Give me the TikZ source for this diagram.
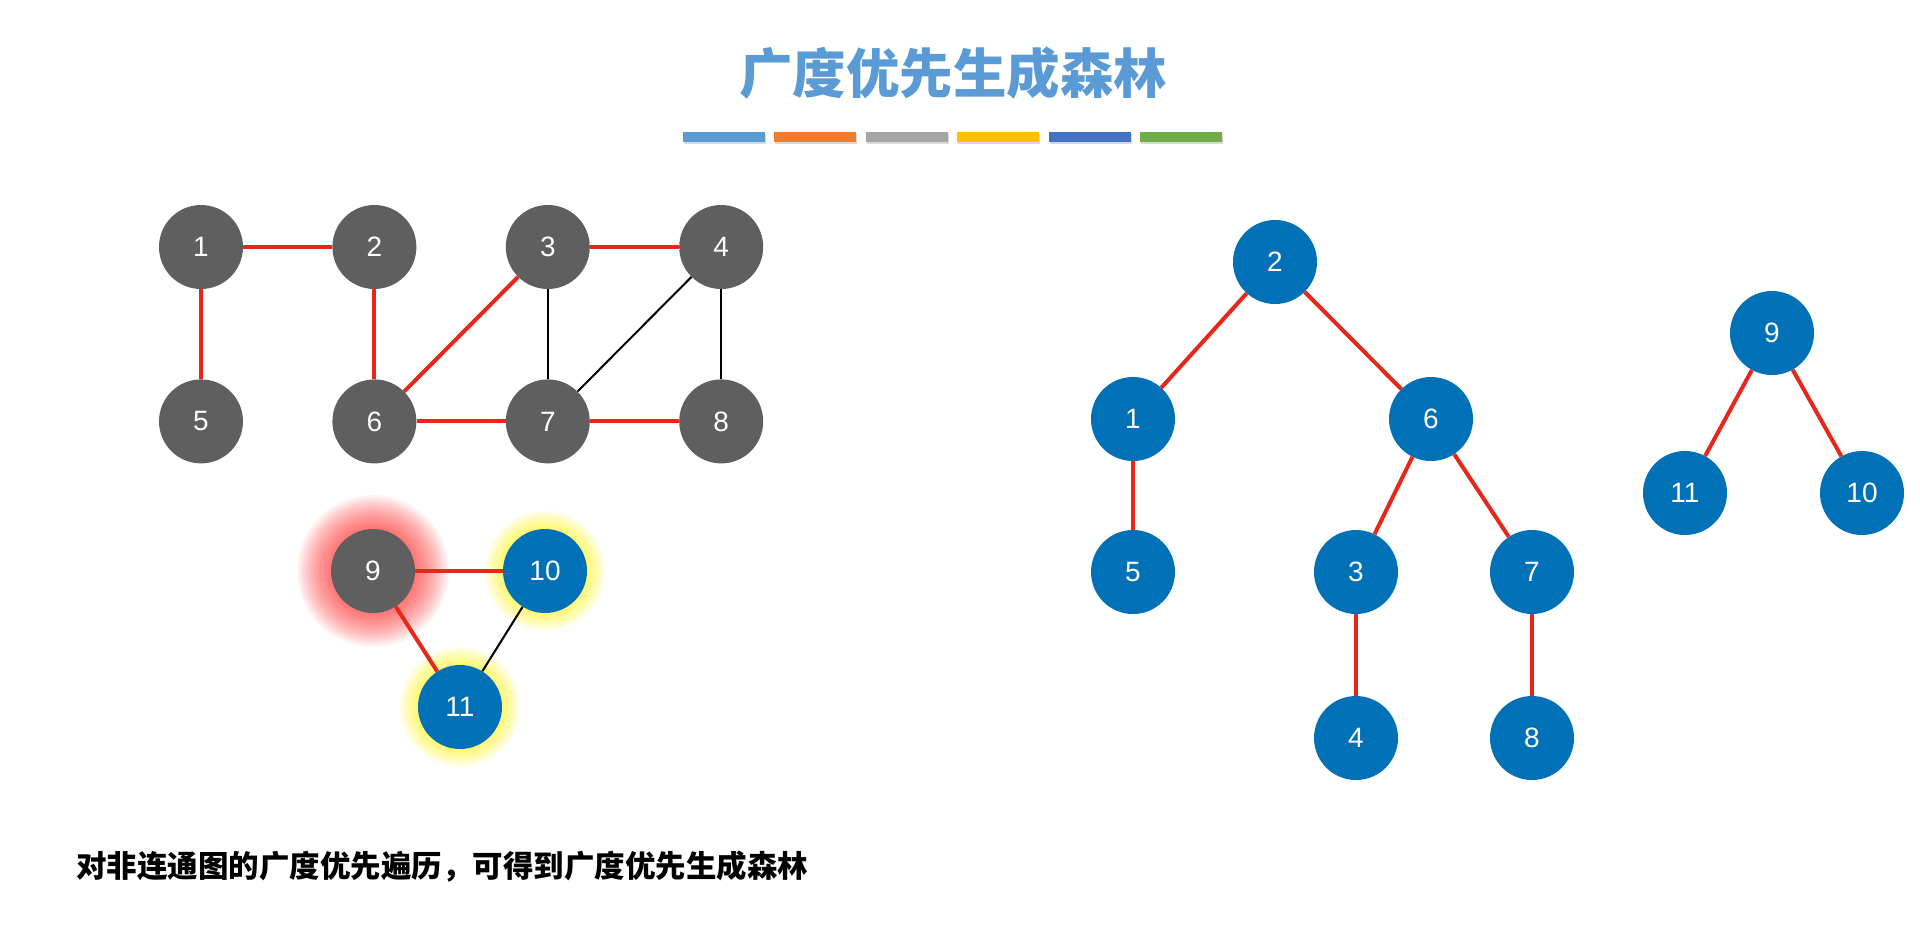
\documentclass[tikz,border=0pt]{standalone}
\usepackage{fontspec}
\setmainfont{Liberation Sans}
\newfontfamily\cjk{Noto Sans CJK SC}
\usepackage{tikz}
\usetikzlibrary{positioning,backgrounds,shadows}
\definecolor{ForestGray}{HTML}{5F5F5F}
\definecolor{ForestBlue}{HTML}{0071B7}
\definecolor{ForestRed}{HTML}{E8261A}
\definecolor{TitleBlue}{HTML}{5B9BD5}
\definecolor{BarOrange}{HTML}{ED7D31}
\definecolor{BarGray}{HTML}{A5A5A5}
\definecolor{BarYellow}{HTML}{FFC000}
\definecolor{BarBlue}{HTML}{4472C4}
\definecolor{BarGreen}{HTML}{70AD47}
\tikzset{
  vertex/.style={circle,fill=ForestGray,text=white,minimum size=84pt,inner sep=0pt,font=\fontsize{28}{28}\selectfont},
  visited/.style={vertex,fill=ForestBlue},
  treeedge/.style={draw=ForestRed,line width=4pt},
  crossedge/.style={draw=black,line width=2pt},
  bar/.style={minimum width=82pt,minimum height=10pt,inner sep=0pt,drop shadow={shadow xshift=1pt,shadow yshift=-2.5pt,opacity=0.3}}
}

\begin{document}
\begin{tikzpicture}[x=1pt,y=-1pt,node distance=90pt and 89pt]
  \useasboundingbox (0,0) rectangle (1920,940);
  % title and colour bars
  \node (title) at (953,73) {\cjk\bfseries\fontsize{53.5}{54}\selectfont\color{TitleBlue}广度优先生成森林};
  \node[bar,fill=TitleBlue] (bar1) at (724,136.5) {};
  \node[bar,fill=BarOrange,right=9pt of bar1] (bar2) {};
  \node[bar,fill=BarGray,right=9pt of bar2] (bar3) {};
  \node[bar,fill=BarYellow,right=9pt of bar3] (bar4) {};
  \node[bar,fill=BarBlue,right=9pt of bar4] (bar5) {};
  \node[bar,fill=BarGreen,right=9pt of bar5] (bar6) {};
  % the graph
  \node[vertex] (g1) at (201,247) {1};
  \node[vertex,right=of g1] (g2) {2};
  \node[vertex,right=of g2] (g3) {3};
  \node[vertex,right=of g3] (g4) {4};
  \node[vertex,below=of g1] (g5) {5};
  \node[vertex,below=of g2] (g6) {6};
  \node[vertex,below=of g3] (g7) {7};
  \node[vertex,below=of g4] (g8) {8};
  \draw[treeedge] (g1) -- (g2);
  \draw[treeedge] (g1) -- (g5);
  \draw[treeedge] (g2) -- (g6);
  \draw[treeedge] (g3) -- (g4);
  \draw[treeedge] (g3) -- (g6);
  \draw[treeedge] (g6) -- (g7);
  \draw[treeedge] (g7) -- (g8);
  \draw[crossedge] (g3) -- (g7);
  \draw[crossedge] (g4) -- (g7);
  \draw[crossedge] (g4) -- (g8);
  % second component
  \node[vertex] (g9) at (373,571) {9};
  \node[visited] (g10) at (545,571) {10};
  \node[visited] (g11) at (460,707) {11};
  \begin{scope}[on background layer]
    \foreach \r in {42,44,...,76}
      \fill[red,opacity=0.045] (g9) circle (\r pt);
    \foreach \r in {42,44,...,60} {
      \fill[yellow,opacity=0.08] (g10) circle (\r pt);
      \fill[yellow,opacity=0.08] (g11) circle (\r pt);
    }
  \end{scope}
  \draw[treeedge] (g9) -- (g10);
  \draw[treeedge] (g9) -- (g11);
  \draw[crossedge] (g10) -- (g11);
  % spanning forest
  \node[visited] (t2) at (1275,262) {2};
  \node[visited] (t1) at (1133,419) {1};
  \node[visited] (t6) at (1431,419) {6};
  \node[visited] (t5) at (1133,572) {5};
  \node[visited] (t3) at (1356,572) {3};
  \node[visited] (t7) at (1532,572) {7};
  \node[visited] (t4) at (1356,738) {4};
  \node[visited] (t8) at (1532,738) {8};
  \draw[treeedge] (t2) -- (t1);
  \draw[treeedge] (t2) -- (t6);
  \draw[treeedge] (t1) -- (t5);
  \draw[treeedge] (t6) -- (t3);
  \draw[treeedge] (t6) -- (t7);
  \draw[treeedge] (t3) -- (t4);
  \draw[treeedge] (t7) -- (t8);
  \node[visited] (t9) at (1772,333) {9};
  \node[visited] (t11) at (1685,493) {11};
  \node[visited] (t10) at (1862,493) {10};
  \draw[treeedge] (t9) -- (t11);
  \draw[treeedge] (t9) -- (t10);
  % caption
  \node[anchor=west,inner sep=0pt] (caption) at (76,867) {\cjk\bfseries\fontsize{30.5}{31}\selectfont 对非连通图的广度优先遍历，可得到广度优先生成森林};
\end{tikzpicture}
\end{document}
